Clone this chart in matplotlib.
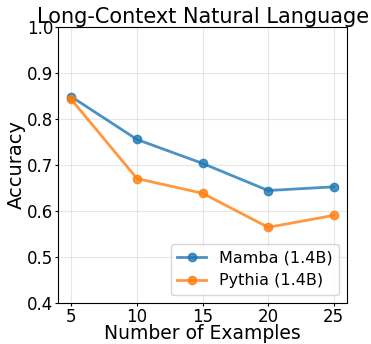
import matplotlib
matplotlib.use("Agg")
import matplotlib.pyplot as plt

examples = [5, 10, 15, 20, 25]
mamba = [0.848, 0.755, 0.703, 0.644, 0.652]
pythia = [0.842, 0.670, 0.638, 0.564, 0.590]

fig, ax = plt.subplots(figsize=(3.71, 3.44), dpi=100)

ax.plot(examples, mamba, marker="o", color="tab:blue", alpha=0.8, linewidth=2, markersize=6, label="Mamba (1.4B)")
ax.plot(examples, pythia, marker="o", color="tab:orange", alpha=0.8, linewidth=2, markersize=6, label="Pythia (1.4B)")

ax.set_xlim(4, 26)
ax.set_ylim(0.4, 1.0)
ax.set_xticks(examples)
ax.set_yticks([0.4, 0.5, 0.6, 0.7, 0.8, 0.9, 1.0])
ax.tick_params(labelsize=12, length=2.5, pad=1)
ax.grid(True, alpha=0.3)

ax.set_title("Long-Context Natural Language", fontsize=15, pad=2)
ax.set_xlabel("Number of Examples", fontsize=13.5, labelpad=-1)
ax.set_ylabel("Accuracy", fontsize=14, labelpad=1)
ax.legend(loc="lower right", fontsize=11.5, handlelength=1.8)

fig.subplots_adjust(left=0.157, right=0.935, top=0.922, bottom=0.12)
fig.savefig("out.png", dpi=100)
